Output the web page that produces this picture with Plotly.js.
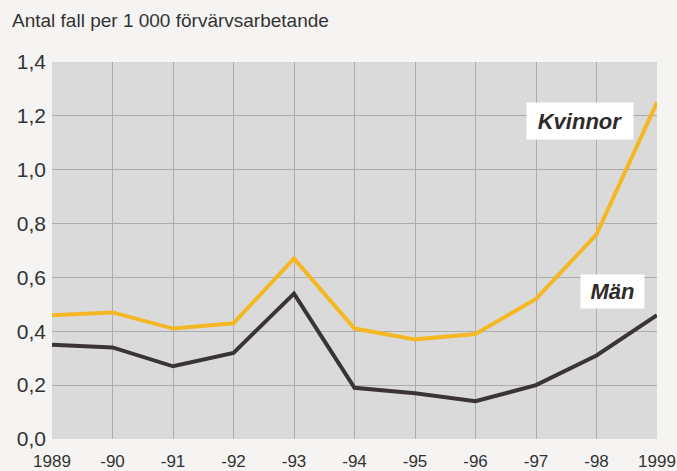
<!DOCTYPE html>
<html>
<head>
<meta charset="utf-8">
<script src="https://cdn.plot.ly/plotly-3.0.1.min.js"></script>
<style>
html,body{margin:0;padding:0;background:#f5f4f2;}
#chart{width:677px;height:471px;}
</style>
</head>
<body>
<div id="chart"></div>
<script>
var years = [1989, 1990, 1991, 1992, 1993, 1994, 1995, 1996, 1997, 1998, 1999];
var tickLabels = ["1989", "-90", "-91", "-92", "-93", "-94", "-95", "-96", "-97", "-98", "1999"];
var kvinnor = [0.46, 0.47, 0.41, 0.43, 0.67, 0.41, 0.37, 0.39, 0.52, 0.76, 1.25];
var man = [0.35, 0.34, 0.27, 0.32, 0.54, 0.19, 0.17, 0.14, 0.20, 0.31, 0.46];
var yTicks = [0, 0.2, 0.4, 0.6, 0.8, 1.0, 1.2, 1.4];
var yTickLabels = ["0,0", "0,2", "0,4", "0,6", "0,8", "1,0", "1,2", "1,4"];

var traces = [
  {x: years, y: kvinnor, type: "scatter", mode: "lines", name: "Kvinnor",
   line: {color: "#f4b824", width: 4}},
  {x: years, y: man, type: "scatter", mode: "lines", name: "Män",
   line: {color: "#3a3436", width: 4}}
];

var layout = {
  width: 677, height: 471,
  margin: {l: 52, r: 20, t: 62, b: 32},
  paper_bgcolor: "#f5f4f2",
  plot_bgcolor: "#dbdada",
  showlegend: false,
  font: {family: "Liberation Sans, Arial, sans-serif", color: "#333"},
  xaxis: {
    range: [1989, 1999], tickvals: years, ticktext: tickLabels,
    showgrid: true, gridcolor: "#acacac", gridwidth: 1,
    zeroline: false, showline: false, ticks: "",
    tickfont: {size: 17, color: "#333"}, ticklabelstandoff: 10
  },
  yaxis: {
    range: [0, 1.4], tickvals: yTicks, ticktext: yTickLabels,
    showgrid: true, gridcolor: "#acacac", gridwidth: 1,
    zeroline: false, showline: false, ticks: "",
    tickfont: {size: 21, color: "#333"}, ticklabelstandoff: 5
  },
  annotations: [
    {xref: "paper", yref: "paper", x: 0, xshift: -42, y: 1.0, yshift: 42, xanchor: "left", yanchor: "middle",
     text: "Antal fall per 1 000 förvärvsarbetande", showarrow: false,
     font: {size: 19, color: "#333"}},
    {xref: "x", yref: "y", x: 1997.73, y: 1.18, xanchor: "center", yanchor: "middle",
     text: "<b><i>Kvinnor</i></b>", showarrow: false, bgcolor: "#ffffff",
     width: 94, height: 24, borderpad: 6,
     font: {size: 22, color: "#2e2a2b"}},
    {xref: "x", yref: "y", x: 1998.27, y: 0.548, xanchor: "center", yanchor: "middle",
     text: "<b><i>Män</i></b>", showarrow: false, bgcolor: "#ffffff",
     width: 53, height: 23, borderpad: 5,
     font: {size: 22, color: "#2e2a2b"}}
  ]
};

Plotly.newPlot("chart", traces, layout, {displayModeBar: false, staticPlot: true});
</script>
</body>
</html>
